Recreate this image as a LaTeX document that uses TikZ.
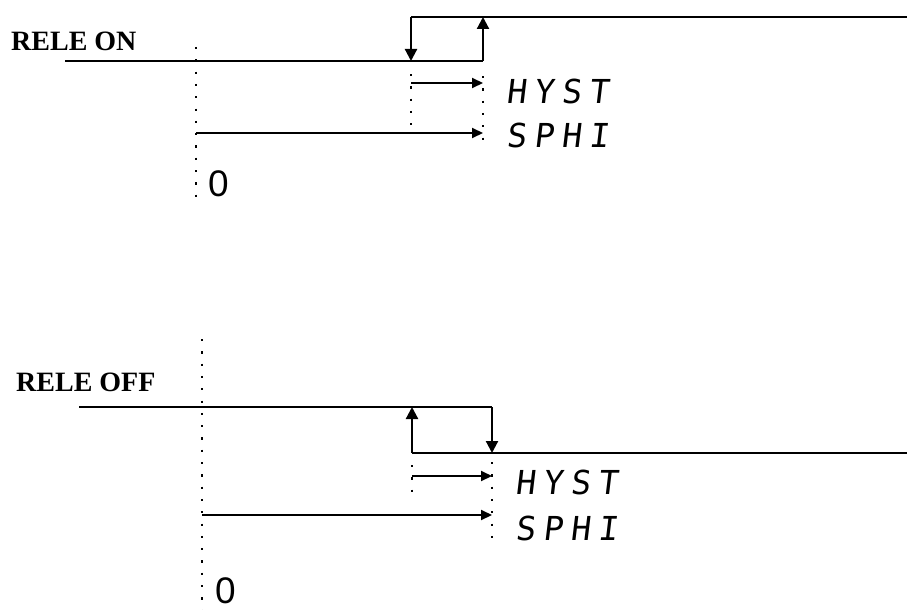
\documentclass[tikz,border=0pt]{standalone}
\usepackage{fontspec}
\usepackage{tikz}
\usetikzlibrary{arrows.meta,positioning,calc}
\setmainfont{Liberation Serif}
\newfontfamily\arialfont{Liberation Sans}
\newfontfamily\segfont[FakeSlant=0.12,LetterSpace=23]{DejaVu Sans Mono}

\begin{document}
\begin{tikzpicture}[x=1pt, y=-1pt,
    sig/.style={draw=black, line width=2.2pt},
    sig_arrow/.style={-{Triangle[length=12pt,width=12pt]}, draw=black, line width=2.2pt},
    dim_arrow/.style={-{Triangle[length=11pt,width=10pt]}, draw=black, line width=2pt},
    dots/.style={draw=black, line width=2.2pt, dash pattern=on 2.2pt off 10.1pt},
    state_label/.style={font=\fontsize{28}{28}\selectfont\bfseries, anchor=base west, inner sep=0pt},
    seg_label/.style={font=\segfont\fontsize{33}{33}\selectfont, anchor=base west, inner sep=0pt},
    zero_label/.style={font=\arialfont\fontsize{37}{37}\selectfont, anchor=base west, inner sep=0pt, text depth=0pt}
]
    \useasboundingbox (0,0) rectangle (907,610);

    % RELE ON
    \node[state_label] (rele_on) at (11,51) {RELE ON};
    \coordinate (on_start) at (65,61);
    \coordinate (on_lo_a) at (411,61);
    \coordinate (on_lo_b) at (483,61);
    \coordinate (on_hi_a) at (411,17);
    \coordinate (on_hi_b) at (483,17);
    \coordinate (on_end) at (907,17);

    \draw[sig] (on_start) -- (on_lo_b);
    \draw[sig] (on_hi_a) -- (on_end);
    \draw[sig_arrow] (on_lo_b) -- (on_hi_b);
    \draw[sig_arrow] (on_hi_a) -- (on_lo_a);

    % dotted marks
    \draw[dots] (196,47) coordinate (on_zero_top) -- (196,198) coordinate (on_zero_bot);
    \draw[dots] (411,74) coordinate (on_hy_top) -- (411,134) coordinate (on_hy_bot);
    \draw[dots] (483,76) coordinate (on_sp_top) -- (483,148) coordinate (on_sp_bot);

    \coordinate (on_hyst_a) at (411,83);
    \coordinate (on_hyst_b) at (483,83);
    \coordinate (on_sphi_a) at (196,133);
    \coordinate (on_sphi_b) at (483,133);
    \draw[dim_arrow] (on_hyst_a) -- (on_hyst_b);
    \draw[dim_arrow] (on_sphi_a) -- (on_sphi_b);

    \node[seg_label] (on_hyst) at (506,103) {HYST};
    \node[seg_label] (on_sphi) at (506,147) {SPHI};
    \node[zero_label] (on_zero) at (208,196) {0};

    % RELE OFF
    \node[state_label] (rele_off) at (16,391) {RELE OFF};
    \coordinate (off_start) at (79,407);
    \coordinate (off_hi_a) at (412,407);
    \coordinate (off_hi_b) at (492,407);
    \coordinate (off_lo_a) at (412,453);
    \coordinate (off_lo_b) at (492,453);
    \coordinate (off_end) at (907,453);

    \draw[sig] (off_start) -- (off_hi_b);
    \draw[sig] (off_lo_a) -- (off_end);
    \draw[sig_arrow] (off_hi_b) -- (off_lo_b);
    \draw[sig_arrow] (off_lo_a) -- (off_hi_a);

    % dotted marks
    \draw[dots] (202,339) coordinate (off_zero_top) -- (202,610) coordinate (off_zero_bot);
    \draw[dots] (412,465) coordinate (off_hy_top) -- (412,495) coordinate (off_hy_bot);
    \draw[dots] (492,462) coordinate (off_sp_top) -- (492,539) coordinate (off_sp_bot);

    \coordinate (off_hyst_a) at (412,476);
    \coordinate (off_hyst_b) at (492,476);
    \coordinate (off_sphi_a) at (202,515);
    \coordinate (off_sphi_b) at (492,515);
    \draw[dim_arrow] (off_hyst_a) -- (off_hyst_b);
    \draw[dim_arrow] (off_sphi_a) -- (off_sphi_b);

    \node[seg_label] (off_hyst) at (515,494) {HYST};
    \node[seg_label] (off_sphi) at (515,540) {SPHI};
    \node[zero_label] (off_zero) at (215,603) {0};
\end{tikzpicture}
\end{document}
